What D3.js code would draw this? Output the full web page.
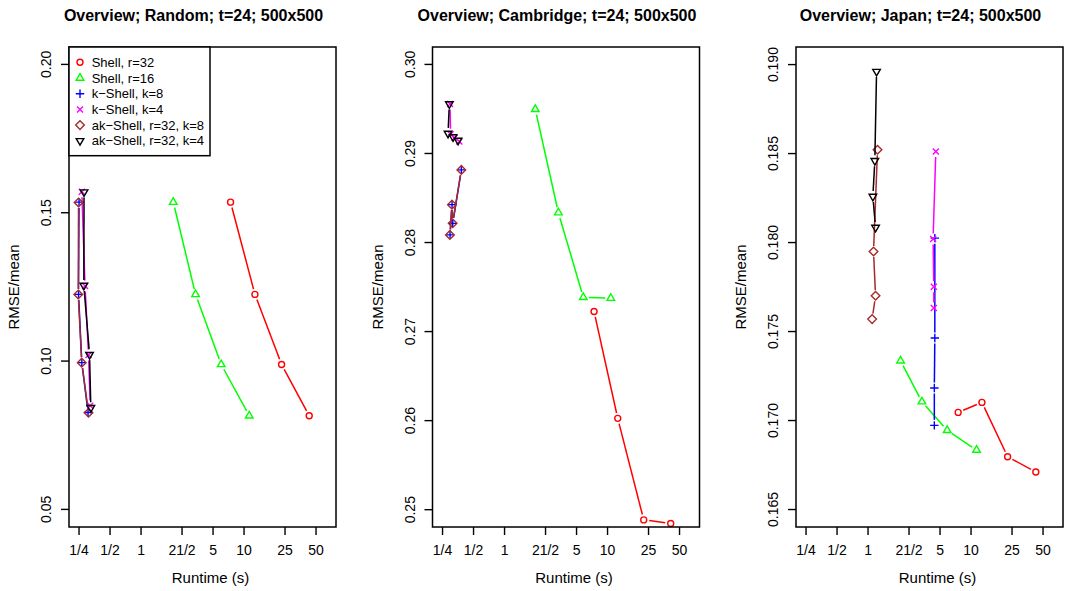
<!DOCTYPE html>
<html>
<head>
<meta charset="utf-8">
<script src="https://cdn.jsdelivr.net/npm/d3@7"></script>
<style>
  body { margin: 0; background: #fff; }
  text { font-family: "Liberation Sans", Arial, sans-serif; }
</style>
</head>
<body>
<script>
// Data
var panelNames = ["Random", "Cambridge", "Japan"];
var seriesNames = ["Shell, r=32", "Shell, r=16", "k\u2212Shell, k=8", "k\u2212Shell, k=4",
                   "ak\u2212Shell, r=32, k=8", "ak\u2212Shell, r=32, k=4"];
var seriesColors = ["#ff0000", "#00ff00", "#0000ff", "#ff00ff", "#a52a2a", "#000000"];
var seriesShapes = ["circle", "triUp", "plus", "cross", "diamond", "triDown"];

// runtime (s) per series, per panel
var randomRuntime = [
  [7.48, 12.9, 23.4, 43.4],
  [2.08, 3.42, 6.07, 11.36],
  [0.2528, 0.25, 0.2691, 0.3092],
  [0.2691, 0.2891, 0.3126, 0.3247],
  [0.25, 0.2483, 0.2685, 0.3126],
  [0.2827, 0.2815, 0.3197, 0.3291]
];
var randomRmse = [
  [0.1534, 0.1223, 0.0987, 0.0814],
  [0.1534, 0.1223, 0.0987, 0.0814],
  [0.1534, 0.1223, 0.0993, 0.0825],
  [0.1569, 0.1251, 0.1019, 0.0848],
  [0.1533, 0.1223, 0.0993, 0.0824],
  [0.1568, 0.1253, 0.1020, 0.0841]
];
var cambridgeRuntime = [
  [7.48, 12.7, 22.7, 41.5],
  [2.01, 3.37, 5.88, 10.87],
  [0.299, 0.3126, 0.3176, 0.3849],
  [0.299, 0.3023, 0.3306, 0.3681],
  [0.298, 0.312, 0.317, 0.3849],
  [0.2943, 0.2859, 0.3197, 0.3575]
];
var cambridgeRmse = [
  [0.2722, 0.2602, 0.2488, 0.2484],
  [0.2949, 0.2833, 0.2738, 0.2737],
  [0.2808, 0.2842, 0.2821, 0.2881],
  [0.2955, 0.2921, 0.2917, 0.2913],
  [0.2808, 0.2842, 0.2821, 0.2881],
  [0.2955, 0.2922, 0.2918, 0.2914]
];
var japanRuntime = [
  [7.58, 12.9, 22.9, 43.0],
  [2.09, 3.37, 5.93, 11.43],
  [4.50, 4.50, 4.45, 4.45],
  [4.60, 4.33, 4.40, 4.40],
  [1.25, 1.143, 1.196, 1.108],
  [1.223, 1.177, 1.126, 1.196]
];
var japanRmse = [
  [0.17043, 0.17099, 0.16794, 0.16708],
  [0.17333, 0.17103, 0.16942, 0.16831],
  [0.18022, 0.17461, 0.1718, 0.1697],
  [0.18509, 0.18017, 0.17749, 0.17629],
  [0.18519, 0.17947, 0.17698, 0.17567],
  [0.18958, 0.18457, 0.18256, 0.18082]
];

var xTicks = [0.25, 0.5, 1, 2.5, 5, 10, 25, 50];
var xTickLabels = ["1/4", "1/2", "1", "21/2", "5", "10", "25", "50"];
var yTicksList = [
  [0.05, 0.10, 0.15, 0.20],
  [0.25, 0.26, 0.27, 0.28, 0.29, 0.30],
  [0.165, 0.170, 0.175, 0.180, 0.185, 0.190]
];
var yDomains = [[0.0439, 0.2057], [0.2480, 0.3019], [0.16399, 0.19096]];
var yFormats = [".2f", ".2f", ".3f"];

var runtimes = [randomRuntime, cambridgeRuntime, japanRuntime];
var rmses = [randomRmse, cambridgeRmse, japanRmse];

// Layout
var W = 1067, H = 591;
var boxLefts = [69, 432.5, 796], boxW = 267, plotTop = 47, plotBottom = 527;
var gap = 5.5;

var svg = d3.select("body").append("svg")
    .attr("width", W).attr("height", H);

// R style point symbols
function symbolPath(shape) {
  switch (shape) {
    case "circle": return "M3,0A3,3 0 1,1 -3,0A3,3 0 1,1 3,0Z";
    case "triUp": return "M0,-4.4L3.8,2.2L-3.8,2.2Z";
    case "triDown": return "M0,4.4L3.8,-2.2L-3.8,-2.2Z";
    case "plus": return "M-4.2,0H4.2M0,-4.2V4.2";
    case "cross": return "M-3,-3L3,3M-3,3L3,-3";
    case "diamond": return "M0,-4.3L4.3,0L0,4.3L-4.3,0Z";
  }
}

panelNames.forEach(function(name, p) {
  var left = boxLefts[p];
  var x = d3.scaleLog().domain([0.202, 79]).range([left, left + boxW]);
  var y = d3.scaleLinear().domain(yDomains[p]).range([plotBottom, plotTop]);
  var g = svg.append("g");

  // title
  g.append("text")
    .attr("x", left + boxW / 2 - 9).attr("y", 21)
    .attr("text-anchor", "middle")
    .attr("font-size", 16).attr("font-weight", "bold")
    .text("Overview; " + name + "; t=24; 500x500");

  // series
  var runtime = runtimes[p], rmse = rmses[p];
  seriesNames.forEach(function(s, i) {
    var pts = runtime[i].map(function(v, j) { return [x(v), y(rmse[i][j])]; });
    var segs = [];
    for (var j = 0; j < pts.length - 1; j++) {
      var dx = pts[j + 1][0] - pts[j][0], dy = pts[j + 1][1] - pts[j][1];
      var d = Math.sqrt(dx * dx + dy * dy);
      if (d > 2 * gap) {
        var ux = dx / d, uy = dy / d;
        segs.push([pts[j][0] + ux * gap, pts[j][1] + uy * gap,
                   pts[j + 1][0] - ux * gap, pts[j + 1][1] - uy * gap]);
      }
    }
    g.selectAll(null).data(segs).enter().append("line")
      .attr("x1", function(d) { return d[0]; })
      .attr("y1", function(d) { return d[1]; })
      .attr("x2", function(d) { return d[2]; })
      .attr("y2", function(d) { return d[3]; })
      .attr("stroke", seriesColors[i]).attr("stroke-width", 1.5);
    g.selectAll(null).data(pts).enter().append("path")
      .attr("transform", function(d) { return "translate(" + d[0] + "," + d[1] + ")"; })
      .attr("d", symbolPath(seriesShapes[i]))
      .attr("fill", "none")
      .attr("stroke", seriesColors[i]).attr("stroke-width", 1.4);
  });

  // box
  g.append("rect")
    .attr("x", left).attr("y", plotTop)
    .attr("width", boxW).attr("height", plotBottom - plotTop)
    .attr("fill", "none").attr("stroke", "#000").attr("stroke-width", 1.5);

  // x axis
  var xa = g.append("g").attr("transform", "translate(0," + plotBottom + ")")
    .call(d3.axisBottom(x).tickValues(xTicks)
      .tickFormat(function(d, i) { return xTickLabels[i]; })
      .tickSize(8).tickPadding(10));
  xa.select(".domain").remove();
  xa.selectAll("line").attr("stroke-width", 1.4);
  xa.selectAll("text").attr("font-size", 14).attr("fill", "#000")
    .attr("font-family", "Liberation Sans, Arial, sans-serif");

  // y axis
  var fmt = d3.format(yFormats[p]);
  var ya = g.append("g").attr("transform", "translate(" + left + ",0)")
    .call(d3.axisLeft(y).tickValues(yTicksList[p]).tickFormat(fmt).tickSize(8));
  ya.select(".domain").remove();
  ya.selectAll("line").attr("stroke-width", 1.4);
  ya.selectAll("text")
    .attr("font-size", 14).attr("fill", "#000")
    .attr("font-family", "Liberation Sans, Arial, sans-serif")
    .attr("x", null).attr("dy", null)
    .attr("text-anchor", "middle")
    .attr("transform", "translate(-18,0) rotate(-90)");

  // axis titles
  g.append("text")
    .attr("x", left + boxW / 2 + 8).attr("y", 583)
    .attr("text-anchor", "middle").attr("font-size", 15)
    .text("Runtime (s)");
  g.append("text")
    .attr("transform", "translate(" + (left - 50) + "," + ((plotTop + plotBottom) / 2) + ") rotate(-90)")
    .attr("text-anchor", "middle").attr("font-size", 15)
    .text("RMSE/mean");

  // legend on first panel
  if (p === 0) {
    var lg = g.append("g");
    lg.append("rect")
      .attr("x", left).attr("y", plotTop)
      .attr("width", 141).attr("height", 108.7)
      .attr("fill", "#fff").attr("stroke", "#000").attr("stroke-width", 1.5);
    var items = lg.selectAll(".item").data(seriesNames).enter().append("g")
      .attr("class", "item")
      .attr("transform", function(d, i) { return "translate(" + (left + 11) + "," + (62.3 + i * 15.7) + ")"; });
    items.append("path")
      .attr("d", function(d, i) { return symbolPath(seriesShapes[i]); })
      .attr("fill", "none")
      .attr("stroke", function(d, i) { return seriesColors[i]; })
      .attr("stroke-width", 1.4);
    items.append("text")
      .attr("x", 11.7).attr("y", 4.6)
      .attr("font-size", 13)
      .text(function(d) { return d; });
  }
});
</script>
</body>
</html>
